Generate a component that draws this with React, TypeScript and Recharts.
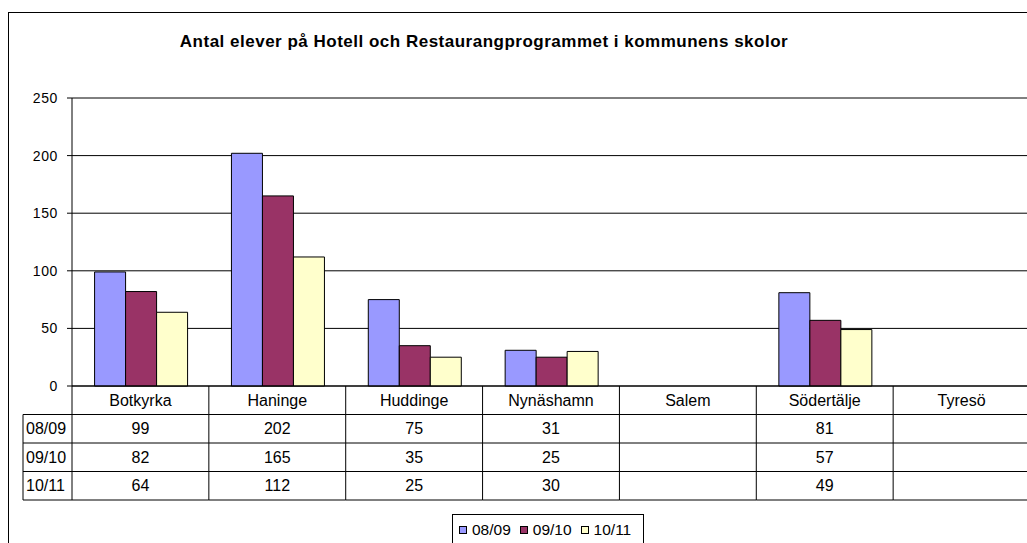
import React from "react"
import { BarChart, Bar, XAxis, YAxis, CartesianGrid, Legend } from "recharts"

const categories = ["Botkyrka", "Haninge", "Huddinge", "Nynäshamn", "Salem", "Södertälje", "Tyresö"]
const seriesNames = ["08/09", "09/10", "10/11"]
const values0809 = [99, 202, 75, 31, null, 81, null]
const values0910 = [82, 165, 35, 25, null, 57, null]
const values1011 = [64, 112, 25, 30, null, 49, null]
const seriesColors = ["#9999FF", "#993366", "#FFFFCC"]
const yTicks = [0, 50, 100, 150, 200, 250]

const seriesValues = [values0809, values0910, values1011]

const data = categories.map((name, i) => ({
  name,
  s0: values0809[i],
  s1: values0910[i],
  s2: values1011[i],
}))

const FONT = "'Liberation Sans', Arial, sans-serif"
const PLOT_LEFT = 72
const PLOT_RIGHT = 1030
const BAND = (PLOT_RIGHT - PLOT_LEFT) / categories.length
const ROW_H = 28.5

function TableTick(props: any) {
  const { x, y, payload } = props
  const i = payload?.index ?? props.index ?? 0
  const left = x - BAND / 2
  const right = x + BAND / 2
  const top = y
  const bottom = top + ROW_H * 4
  return (
    <g fontFamily={FONT} fontSize={16} fill="#000">
      <line x1={left} y1={top} x2={left} y2={bottom} stroke="#000" />
      {i === categories.length - 1 && (
        <line x1={right} y1={top} x2={right} y2={bottom} stroke="#000" />
      )}
      {[1, 2, 3, 4].map((r) => (
        <line key={r} x1={left} y1={top + r * ROW_H} x2={right} y2={top + r * ROW_H} stroke="#000" />
      ))}
      <text x={x} y={top + ROW_H / 2} textAnchor="middle" dominantBaseline="central" fill="#000">
        {payload.value}
      </text>
      {seriesValues.map((vals, r) =>
        vals[i] == null ? null : (
          <text
            key={r}
            x={x}
            y={top + (r + 1.5) * ROW_H}
            textAnchor="middle"
            dominantBaseline="central"
            fill="#000"
          >
            {vals[i]}
          </text>
        )
      )}
      {i === 0 && (
        <g>
          <line x1={23} y1={top + ROW_H} x2={23} y2={bottom} stroke="#000" />
          {[1, 2, 3, 4].map((r) => (
            <line key={r} x1={23} y1={top + r * ROW_H} x2={left} y2={top + r * ROW_H} stroke="#000" />
          ))}
          {seriesNames.map((s, r) => (
            <text key={s} x={26} y={top + (r + 1.5) * ROW_H} dominantBaseline="central" fill="#000">
              {s}
            </text>
          ))}
        </g>
      )}
    </g>
  )
}

function renderLegend() {
  return (
    <div
      style={{
        border: "1px solid #000",
        background: "#fff",
        width: 192,
        height: 30,
        boxSizing: "border-box",
        display: "flex",
        alignItems: "center",
        paddingLeft: 6,
        paddingTop: 2,
        fontFamily: FONT,
        fontSize: 15.5,
        color: "#000",
        whiteSpace: "nowrap",
      }}
    >
      {seriesNames.map((s, i) => (
        <span key={s} style={{ display: "flex", alignItems: "center", marginRight: 9 }}>
          <span
            style={{
              display: "inline-block",
              width: 6,
              height: 6,
              border: "1px solid #000",
              background: seriesColors[i],
              marginRight: 5,
            }}
          />
          {s}
        </span>
      ))}
    </div>
  )
}

export default function App() {
  return (
    <div
      style={{
        position: "fixed",
        left: 0,
        top: 0,
        width: 1027,
        height: 543,
        overflow: "hidden",
        background: "#fff",
      }}
    >
      <div
        style={{
          position: "absolute",
          left: 8,
          top: 12,
          width: 1100,
          height: 600,
          border: "1px solid #000",
        }}
      />
      <div
        style={{
          position: "absolute",
          left: 0,
          top: 32,
          width: 968,
          textAlign: "center",
          fontFamily: FONT,
          fontWeight: "bold",
          fontSize: 17,
          letterSpacing: 0.5,
          lineHeight: "19px",
          color: "#000",
        }}
      >
        Antal elever på Hotell och Restaurangprogrammet i kommunens skolor
      </div>
      <div style={{ position: "absolute", left: 0, top: 0 }}>
        <BarChart
          width={1040}
          height={543}
          data={data}
          margin={{ top: 98, right: 10, bottom: 43, left: 0 }}
          barCategoryGap="16.5%"
          barGap={0}
        >
          <CartesianGrid vertical={false} stroke="#000" />
          <YAxis
            width={72}
            domain={[0, 250]}
            ticks={yTicks}
            tickSize={5}
            tickMargin={9}
            tick={{ fontSize: 14, fill: "#000", fontFamily: FONT, letterSpacing: 0.6 }}
            tickLine={{ stroke: "#000" }}
            axisLine={{ stroke: "#000" }}
          />
          <XAxis
            dataKey="name"
            height={114}
            interval={0}
            tickSize={0}
            tickMargin={0}
            tickLine={false}
            axisLine={{ stroke: "#000" }}
            tick={<TableTick />}
          />
          <Legend
            layout="horizontal"
            verticalAlign="middle"
            align="center"
            wrapperStyle={{ position: "absolute", left: 452, top: 514, width: 192, height: 30 }}
            content={renderLegend}
          />
          {seriesNames.map((s, i) => (
            <Bar
              key={s}
              dataKey={`s${i}`}
              name={s}
              fill={seriesColors[i]}
              stroke="#000"
              strokeWidth={1}
              isAnimationActive={false}
            />
          ))}
        </BarChart>
      </div>
    </div>
  )
}
